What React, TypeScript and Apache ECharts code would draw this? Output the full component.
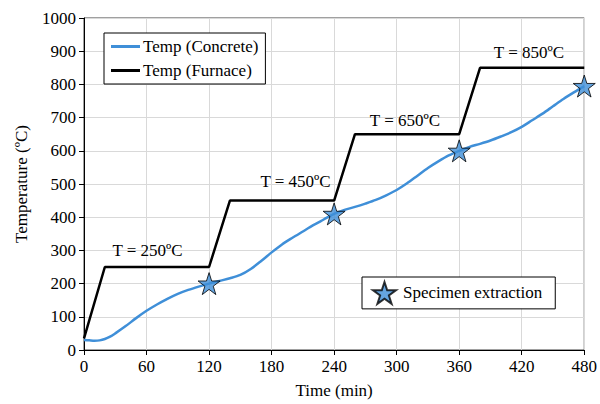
import React, { useEffect, useRef } from "react";
import * as echarts from "echarts";

const furnaceTimes = [0, 20, 120, 140, 240, 260, 360, 380, 480];
const furnaceTemps = [35, 250, 250, 450, 450, 650, 650, 850, 850];

const concreteTimes = [0, 5, 10, 15, 20, 25, 30, 40, 50, 60, 70, 80, 90, 100, 110, 120, 130, 140, 150, 160, 170, 180, 190, 200, 210, 220, 230, 240, 250, 260, 270, 280, 290, 300, 310, 320, 330, 340, 350, 360, 370, 380, 390, 400, 410, 420, 430, 440, 450, 460, 470, 480];
const concreteTemps = [30, 29, 28, 29, 33, 40, 50, 72, 96, 118, 137, 154, 169, 181, 191, 200, 208, 216, 226, 244, 268, 294, 318, 338, 357, 376, 393, 410, 422, 431, 441, 452, 466, 482, 502, 525, 548, 568, 586, 600, 612, 621, 631, 643, 656, 672, 692, 712, 734, 756, 776, 795];

const extractionTimes = [120, 240, 360, 480];
const extractionTemps = [200, 410, 600, 795];

const labelTexts = ["T = 250ºC", "T = 450ºC", "T = 650ºC", "T = 850ºC"];
const labelTimes = [61, 203, 308, 427];
const labelTemps = [300, 508, 690, 895];

const STAR = "path://M50,0 L61.2,34.5 L97.6,34.5 L68.2,55.9 L79.4,90.5 L50,69.1 L20.6,90.5 L31.8,55.9 L2.4,34.5 L38.8,34.5 Z";
const FONT = "'Liberation Serif', 'Times New Roman', 'DejaVu Serif', serif";

export default function App() {
  const ref = useRef<HTMLDivElement>(null);
  useEffect(() => {
    const chart = echarts.init(ref.current!, null, { renderer: "svg" });
    const textStyle = { fontFamily: FONT, fontSize: 17, color: "#000" };
    chart.setOption({
      animation: false,
      textStyle,
      grid: { left: 84, right: 12, top: 18, bottom: 50, show: true, borderColor: "#404040", borderWidth: 1, containLabel: false },
      legend: [
        {
          data: [
            { name: "Temp (Concrete)", icon: "rect", itemStyle: { color: "#3f8fd8" } },
            { name: "Temp (Furnace)", icon: "rect", itemStyle: { color: "#000" } },
          ],
          orient: "vertical",
          left: 104,
          top: 33,
          padding: [5, 7, 5, 7],
          itemGap: 7,
          itemWidth: 29,
          itemHeight: 3,
          borderColor: "#000",
          borderWidth: 1,
          backgroundColor: "#fff",
          textStyle: { ...textStyle, padding: [0, 0, 0, -2] },
        },
        {
          data: [{ name: "Specimen extraction", icon: STAR }],
          left: 362,
          top: 277,
          padding: [4, 13, 4, 10],
          itemWidth: 23,
          itemHeight: 22,
          borderColor: "#000",
          borderWidth: 1,
          backgroundColor: "#fff",
          textStyle: { ...textStyle, padding: [0, 0, 0, 2] },
        },
      ],
      xAxis: {
        type: "value",
        min: 0,
        max: 480,
        interval: 60,
        name: "Time (min)",
        nameLocation: "middle",
        nameGap: 32,
        nameTextStyle: textStyle,
        axisLine: { show: true, lineStyle: { color: "#000", width: 1 } },
        axisTick: { show: true, length: 5, lineStyle: { color: "#000" } },
        axisLabel: { ...textStyle, margin: 8 },
        splitLine: { show: true, lineStyle: { color: "#d9d9d9", width: 1 } },
      },
      yAxis: {
        type: "value",
        min: 0,
        max: 1000,
        interval: 100,
        name: "Temperature (ºC)",
        nameLocation: "middle",
        nameGap: 54,
        nameTextStyle: textStyle,
        axisLine: { show: true, lineStyle: { color: "#000", width: 1 } },
        axisTick: { show: true, length: 5, lineStyle: { color: "#000" } },
        axisLabel: { ...textStyle, margin: 8, formatter: (v: number) => String(v) },
        splitLine: { show: true, lineStyle: { color: "#d9d9d9", width: 1 } },
      },
      series: [
        {
          name: "Temp (Concrete)",
          type: "line",
          data: concreteTimes.map((t, i) => [t, concreteTemps[i]]),
          smooth: 0.3,
          symbol: "none",
          lineStyle: { color: "#3f8fd8", width: 2.5 },
          itemStyle: { color: "#3f8fd8" },
          z: 3,
        },
        {
          name: "Temp (Furnace)",
          type: "line",
          data: furnaceTimes.map((t, i) => [t, furnaceTemps[i]]),
          symbol: "none",
          lineStyle: { color: "#000", width: 2.5 },
          itemStyle: { color: "#000" },
          z: 2,
          markPoint: {
            symbol: "circle",
            symbolSize: 0,
            silent: true,
            label: { show: true, position: "inside", ...textStyle, formatter: (p: any) => p.name },
            data: labelTexts.map((n, i) => ({ name: n, coord: [labelTimes[i], labelTemps[i]] })),
          },
        },
        {
          name: "Specimen extraction",
          type: "scatter",
          data: extractionTimes.map((t, i) => [t, extractionTemps[i]]),
          symbol: STAR,
          symbolSize: 22,
          itemStyle: { color: "#3f8fd8", borderColor: "#000", borderWidth: 1 },
          z: 5,
        },
      ],
    });
    return () => chart.dispose();
  }, []);
  return <div ref={ref} style={{ position: "fixed", left: 0, top: 0, width: 600, height: 404, background: "#fff" }} />;
}
